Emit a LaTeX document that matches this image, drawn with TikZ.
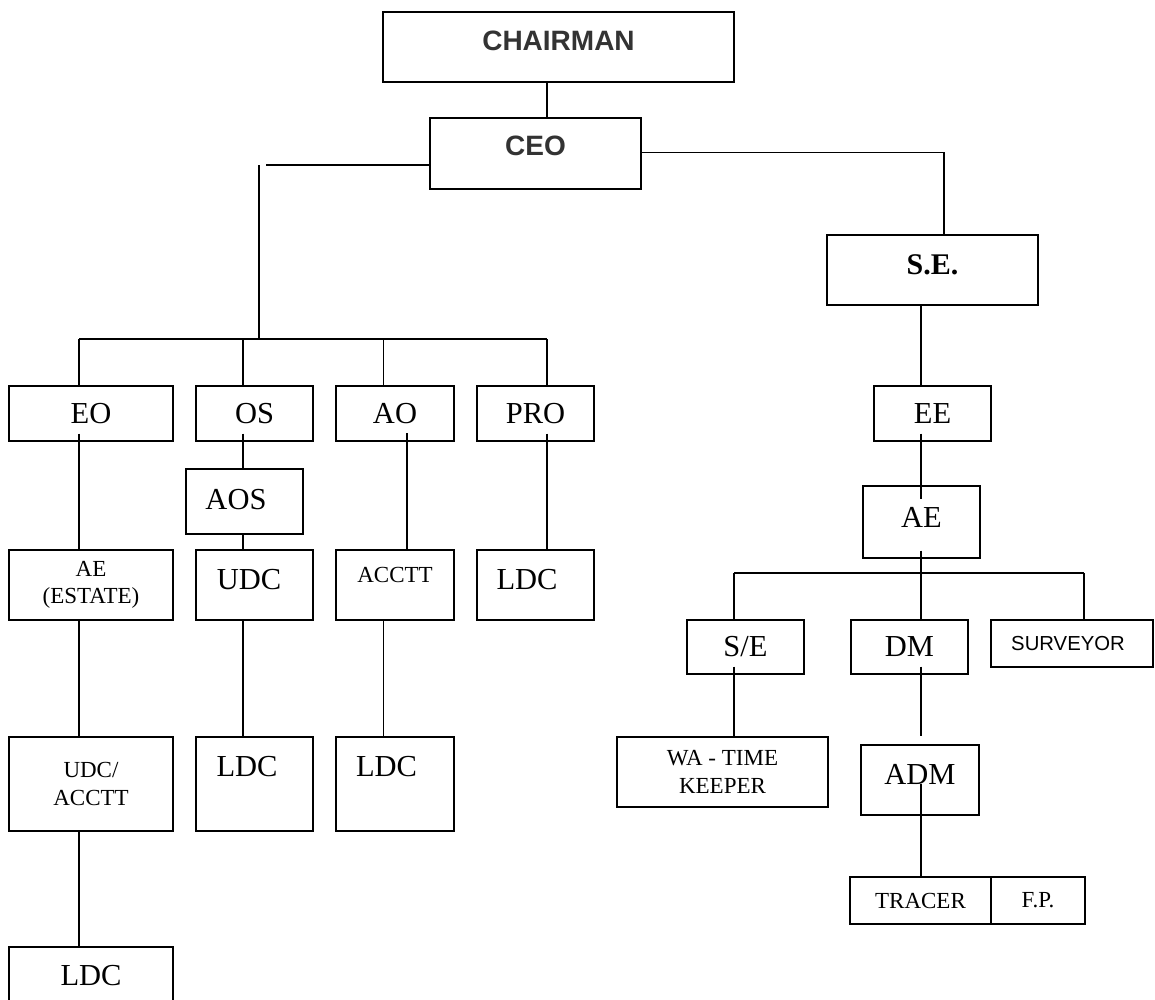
\documentclass[tikz,border=0pt]{standalone}
\usepackage{fontspec}
\setmainfont{Liberation Serif}
\setsansfont{Liberation Sans}
\tikzstyle{box} = [rectangle, draw=black, line width=1.3pt, inner sep=0pt]
\tikzstyle{big} = [font=\fontsize{30.5}{34}\selectfont]
\tikzstyle{small} = [font=\fontsize{23}{27.5}\selectfont, align=center]
\tikzstyle{head} = [font=\sffamily\bfseries\fontsize{28}{32}\selectfont, text=black!80]
\tikzstyle{line} = [line width=1.3pt]

\begin{document}
\begin{tikzpicture}[x=1pt, y=-1pt]
\path[use as bounding box, clip] (0,0) rectangle (1155,999);

% Drawing nodes
\node (chair) [box, head, minimum width=351pt, minimum height=70pt, text depth=13pt] at (558.5,47) {CHAIRMAN};
\node (ceo) [box, head, minimum width=211pt, minimum height=71pt, text depth=15pt] at (535.5,153.5) {CEO};
\node (se) [box, font=\bfseries\fontsize{30}{34}\selectfont, minimum width=211pt, minimum height=70pt, text depth=10pt] at (932.5,270) {S.E.};

\node (eo) [box, big, minimum width=164pt, minimum height=55pt] at (91,413.5) {EO};
\node (os) [box, big, minimum width=117pt, minimum height=55pt] at (254.5,413.5) {OS};
\node (ao) [box, big, minimum width=118pt, minimum height=55pt] at (395,413.5) {AO};
\node (pro) [box, big, minimum width=117pt, minimum height=55pt] at (535.5,413.5) {PRO};
\node (aos) [box, big, minimum width=117pt, minimum height=65pt, text depth=5pt] at (244.5,501.5) {AOS\hspace*{17pt}};

\node (aee) [box, small, minimum width=164pt, minimum height=70pt] at (91,585) {AE\\(ESTATE)};
\node (udc) [box, big, minimum width=117pt, minimum height=70pt, text depth=12pt] at (254.5,585) {UDC\hspace*{11pt}};
\node (acct) [box, font=\fontsize{23}{27.5}\selectfont, minimum width=118pt, minimum height=70pt, text depth=21pt] at (395,585) {ACCTT};
\node (ldca) [box, big, minimum width=117pt, minimum height=70pt, text depth=12pt] at (535.5,585) {LDC\hspace*{17pt}};

\node (udcacct) [box, small, minimum width=164pt, minimum height=94pt] at (91,784) {UDC/\\ACCTT};
\node (ldcb) [box, big, minimum width=117pt, minimum height=94pt, text depth=36pt] at (254.5,784) {LDC\hspace*{15pt}};
\node (ldcc) [box, big, minimum width=118pt, minimum height=94pt, text depth=36pt] at (395,784) {LDC\hspace*{17pt}};
\node (ldcd) [box, big, minimum width=164pt, minimum height=94pt, text depth=38pt] at (91,994) {LDC};

\node (ee) [box, big, minimum width=117pt, minimum height=55pt] at (932.5,413.5) {EE};
\node (ae) [box, big, minimum width=117pt, minimum height=72pt, text depth=10pt] at (921.5,522) {AE};
\node (sE) [box, big, minimum width=117pt, minimum height=54pt] at (745.5,647) {S/E};
\node (dm) [box, big, minimum width=117pt, minimum height=54pt] at (909.5,647) {DM};
\node (surv) [box, font=\sffamily\fontsize{20.3}{24}\selectfont, minimum width=162pt, minimum height=47pt] at (1072,643.5) {SURVEYOR\hspace*{8pt}};
\node (wa) [box, small, minimum width=211pt, minimum height=70pt] at (722.5,772) {WA - TIME\\KEEPER};
\node (adm) [box, big, minimum width=118pt, minimum height=70pt, text depth=12pt] at (920,780) {ADM};
\node (tracer) [box, small, minimum width=141pt, minimum height=47pt] at (920.5,900.5) {TRACER};
\node (fp) [box, small, minimum width=94pt, minimum height=47pt] at (1038,900.5) {F.P.};

% Bus points
\coordinate (lt) at (266,165);
\coordinate (lv) at (259,339);
\coordinate (b1) at (79,339);
\coordinate (b2) at (243,339);
\coordinate (b3) at (383.5,339);
\coordinate (b4) at (547,339);
\coordinate (ao2) at (407,433);
\coordinate (rt) at (944,152.5);
\coordinate (axis) at (921,573);
\coordinate (s1) at (734,573);
\coordinate (s3) at (1084,573);

% Drawing lines
\draw [line] (b4 |- chair.south) -- (b4 |- ceo.north);
\draw [line] (lt) -- (lt -| ceo.west);
\draw [line] (lv |- lt) -- (lv);
\draw [line] (b1) -- (b4);
\draw [line] (b1) -- (b1 |- eo.north);
\draw [line] (b2) -- (b2 |- os.north);
\draw [line] (b3) -- (b3 |- ao.north);
\draw [line] (b4) -- (b4 |- pro.north);

\draw [line] ([yshift=8pt]b1 |- eo.south) -- (b1 |- aee.north);
\draw [line] (b1 |- aee.south) -- (b1 |- udcacct.north);
\draw [line] (b1 |- udcacct.south) -- (b1 |- ldcd.north);
\draw [line] ([yshift=8pt]b2 |- os.south) -- (b2 |- aos.north);
\draw [line] (b2 |- aos.south) -- (b2 |- udc.north);
\draw [line] (b2 |- udc.south) -- (b2 |- ldcb.north);
\draw [line] (ao2) -- (ao2 |- acct.north);
\draw [line] (b3 |- acct.south) -- (b3 |- ldcc.north);
\draw [line] ([yshift=8pt]b4 |- pro.south) -- (b4 |- ldca.north);

\draw [line] (rt -| ceo.east) -- (rt) -- (rt |- se.north);
\draw [line] (axis |- se.south) -- (axis |- ee.north);
\draw [line] ([yshift=8pt]axis |- ee.south) -- ([yshift=-14pt]axis |- ae.north);
\draw [line] ([yshift=8pt]axis |- ae.south) -- (axis |- dm.north);
\draw [line] (s1) -- (s3);
\draw [line] (s1) -- (s1 |- sE.north);
\draw [line] (s3) -- (s3 |- surv.north);
\draw [line] ([yshift=8pt]s1 |- sE.south) -- (s1 |- wa.north);
\draw [line] ([yshift=8pt]axis |- dm.south) -- ([yshift=8pt]axis |- adm.north);
\draw [line] ([yshift=32pt]axis |- adm.south) -- (axis |- tracer.north);
\end{tikzpicture}
\end{document}
